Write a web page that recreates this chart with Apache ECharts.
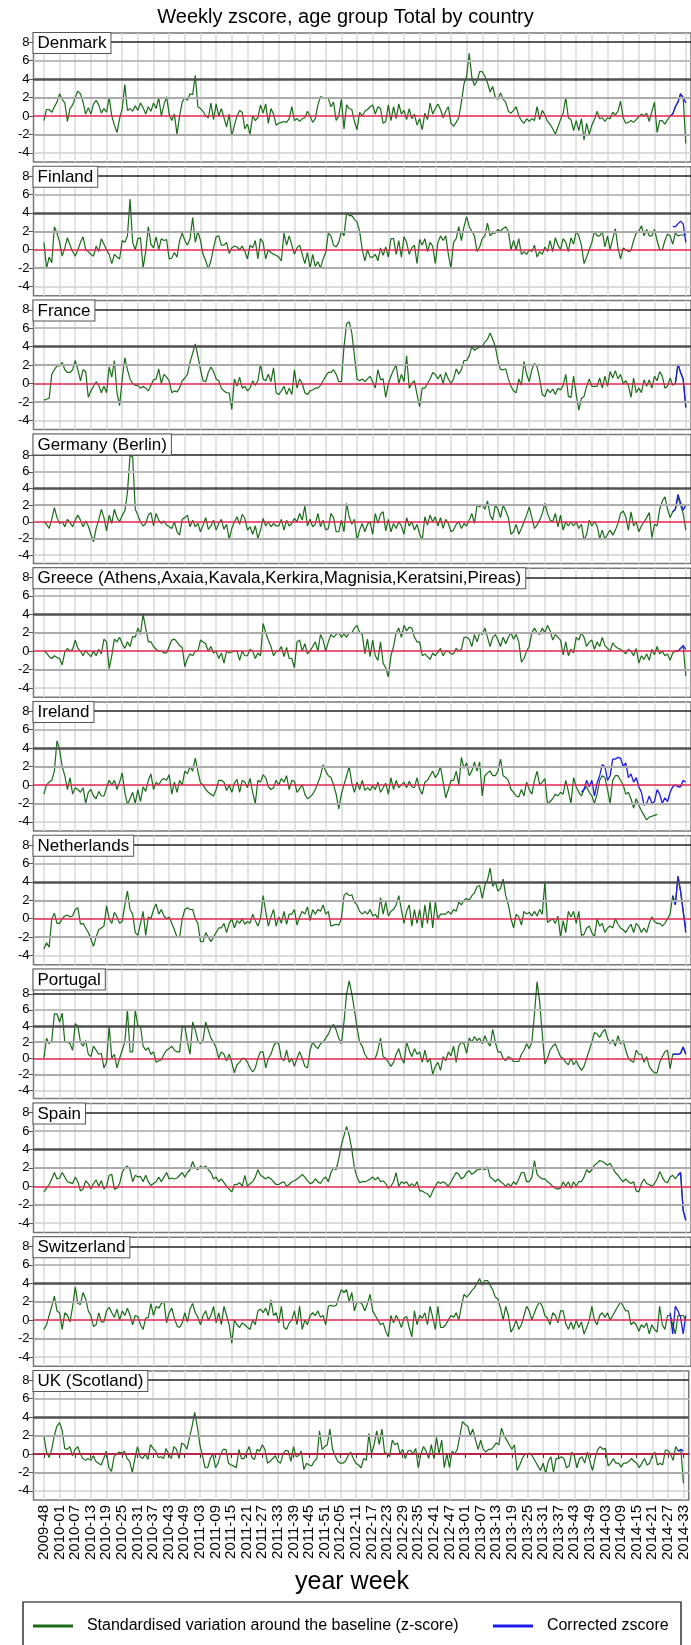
<!DOCTYPE html>
<html><head><meta charset="utf-8">
<script src="https://cdn.jsdelivr.net/npm/echarts@6/dist/echarts.min.js"></script>
<style>html,body{margin:0;padding:0;background:#fff}#c{width:691px;height:1645px}</style>
</head><body><div id="c"></div>
<script>
// ---------- categories (ISO year-week, 2009-48 .. 2014-33) ----------
const firstYear = 2009, firstWeek = 48, weekCount = 247;
const weeksInYear = {2009: 53, 2010: 52, 2011: 52, 2012: 52, 2013: 52, 2014: 52};
const weeks = [];
{ let y = firstYear, w = firstWeek;
  for (let i = 0; i < weekCount; i++) {
    weeks.push(y + '-' + String(w).padStart(2, '0'));
    w++; if (w > weeksInYear[y]) { w = 1; y++; }
  } }

const panelNames = ['Denmark','Finland','France','Germany (Berlin)',
  'Greece (Athens,Axaia,Kavala,Kerkira,Magnisia,Keratsini,Pireas)',
  'Ireland','Netherlands','Portugal','Spain','Switzerland','UK (Scotland)'];
const yTickValues = [-4,-2,0,2,4,6,8];

// ---------- z-score series (green), one value per week ----------
const denmark = [
-0.5,0.7,0.7,0.4,1.0,1.5, 2.4,1.8,1.4,-0.6,0.8,1.2, 2.0,2.7,2.4,1.5,0.2,0.9, 0.2,1.3,1.7,1.2,0.3,0.8,
0.4,2.0,0.0,-1.0,-1.8,-0.3, 0.8,3.4,0.6,0.8,0.5,1.1, 0.6,1.4,0.9,0.2,1.0,0.5, 1.4,0.8,2.0,0.0,1.2,2.1,
0.2,-0.5,0.2,-2.0,0.0,1.5, 2.0,1.7,2.4,2.3,4.4,1.0, 0.8,0.5,0.0,-0.2,1.4,-0.4, 1.3,0.0,0.8,-0.2,-1.2,0.2,
-2.2,-1.0,0.0,0.6,0.4,-1.4, -0.9,-2.0,0.0,-0.5,-0.2,1.2, 0.3,1.3,-0.8,0.8,0.2,-1.0, -0.8,-0.7,-0.6,-0.7,-0.3,1.0,
-0.5,-0.3,-0.6,-0.3,-0.2,0.5, 0.0,-0.7,-0.3,1.2,2.1,2.0, 2.0,1.9,1.0,1.5,-0.5,0.0, 1.8,-1.4,1.2,0.8,0.7,-0.6,
-1.5,0.4,0.0,0.5,0.7,1.0, 1.2,0.2,1.0,0.8,-0.8,-0.6, 1.2,-0.5,1.0,-0.3,1.3,0.2, 0.6,-0.4,0.8,-0.3,0.2,-1.0,
-0.3,-1.5,0.3,-0.4,1.4,0.2, 0.8,1.3,0.7,-0.2,0.5,1.0, -0.8,-1.1,-0.7,-0.2,1.5,3.5, 4.3,6.8,4.2,3.3,3.8,4.8,
4.8,4.3,3.6,2.6,3.2,2.0, 1.8,2.5,1.8,1.5,0.5,0.3, 0.6,1.0,0.0,-0.5,-0.8,-0.3, -0.6,-0.3,-0.5,1.0,-0.4,0.6,
0.1,-0.6,-0.9,-1.4,-2.0,-1.2, -0.4,0.3,2.0,-0.2,-0.4,-1.6, -0.5,-1.6,-0.3,-2.6,-0.8,-2.0, -1.0,-0.4,0.5,-0.3,-0.2,-0.6,
-0.2,-0.3,0.4,0.1,0.5,1.6, -0.2,-0.8,-0.7,-0.5,-0.7,-0.4, -0.1,0.2,0.0,0.3,-0.6,0.5, 1.5,-1.8,-0.5,-0.5,-0.9,-0.4,
0.0,0.2,1.0,1.5,2.4,2.0, -3.0];
const finland = [
0.8,-2.0,-0.8,-1.4,2.5,1.8, 0.8,-0.7,0.2,1.3,0.5,-0.2, -0.7,0.0,0.8,1.4,0.0,-0.2, -0.5,-0.7,0.4,-0.2,1.2,0.6,
0.0,-0.5,-1.5,-0.5,-0.8,-1.0, 1.0,0.8,1.5,5.5,0.8,0.0, 1.2,1.3,-2.0,-0.2,2.5,0.6, 0.2,1.4,0.0,1.2,1.0,1.1,
-1.0,-0.9,-0.3,-0.8,1.0,1.8, 1.0,0.5,1.2,3.5,0.8,2.0, 1.0,-0.5,-1.2,-2.1,-1.2,0.2, 1.4,1.5,0.5,0.5,0.8,-0.4,
0.2,0.4,0.3,0.0,0.4,-0.2, -1.0,0.5,0.2,1.0,-1.0,1.2, 0.8,-1.0,0.0,-0.3,-0.5,-0.6, -0.8,-1.2,1.8,0.5,1.5,0.5,
-0.5,0.2,0.5,-0.5,-1.5,-0.3, -2.0,-0.5,-1.8,-1.3,-2.0,-1.0, -0.3,1.8,1.5,0.5,0.3,0.8, 2.0,1.5,4.0,3.7,3.7,3.3,
3.0,2.0,0.0,-1.2,0.0,-0.8, -0.8,-0.5,-1.2,0.2,-0.6,0.3, -0.8,1.2,1.2,-0.5,1.0,-0.8, 1.4,0.8,-0.5,0.2,0.5,-1.5,
1.1,0.5,1.2,-0.2,0.8,0.4, -1.5,0.8,1.5,1.0,1.5,-0.5, -2.0,0.8,1.2,2.5,1.0,2.5, 3.6,2.5,2.0,1.5,-0.2,0.3,
1.2,1.5,2.9,1.5,1.8,1.8, 2.2,2.0,2.3,2.5,2.0,0.0, 1.0,0.0,1.2,-0.5,-0.2,-0.5, 0.0,-0.2,0.5,-0.8,-0.2,-0.5,
0.3,-0.2,1.0,-0.2,1.3,0.5, 0.0,1.2,0.8,-0.2,1.3,0.6, 2.0,1.5,0.5,-1.5,-0.8,0.0, 0.8,2.0,1.5,1.5,2.0,0.3,
1.5,0.0,1.2,2.3,0.2,-1.0, 0.2,0.0,-0.2,-0.1,1.0,1.8, 2.0,2.6,1.5,2.2,1.5,1.5, 2.2,1.0,0.0,0.0,1.0,1.7,
1.5,0.6,1.8,1.5,1.6,1.6, 1.7];
const france = [
-1.8,-1.7,-1.6,1.0,1.5,1.9, 1.9,2.3,1.5,1.2,1.2,1.5, 2.5,1.5,0.3,1.5,1.3,-1.5, -0.8,-0.3,0.2,-0.2,-1.0,-0.3,
-1.0,1.8,0.7,2.5,-1.0,-2.4, 0.5,2.8,1.5,0.5,0.0,-0.2, -0.2,-0.5,-0.3,-0.5,-0.8,-0.2, 0.4,0.5,1.6,0.0,1.0,0.7,
0.3,-1.0,-0.8,-0.9,-0.5,0.3, 0.6,1.0,2.3,3.3,4.3,3.0, 1.5,0.3,0.2,1.2,1.8,1.3, 0.5,0.3,-0.5,-0.8,-1.0,-1.0,
-2.8,0.5,-0.3,0.7,-0.5,-0.3, -0.8,-0.5,0.3,-0.2,0.3,2.1, 0.5,0.3,1.0,0.2,1.7,-1.0, -1.2,-0.8,-0.3,-1.2,-0.5,-1.2,
1.5,-0.5,0.5,0.0,-1.0,-1.2, -0.8,-0.7,-0.5,-0.5,-0.2,0.3, 0.8,1.2,1.2,1.5,1.0,0.2, 0.2,4.0,6.5,6.7,5.5,3.0,
0.5,0.3,0.5,0.2,0.5,0.8, 0.2,-0.5,1.5,0.4,0.5,-1.5, 0.0,0.8,1.5,2.0,0.0,1.0, 0.2,3.0,-0.5,0.0,0.3,-1.2,
-2.5,-0.5,-0.5,0.0,0.5,1.2, 1.0,0.5,1.0,0.0,1.2,0.5, 0.0,0.5,1.6,1.0,1.5,2.5, 2.5,3.0,4.0,3.6,3.8,4.0,
4.0,4.5,4.8,5.5,4.8,4.0, 2.5,1.5,1.5,1.6,0.5,-0.3, -0.8,-1.0,0.5,-0.2,2.4,1.0, 0.2,1.5,2.2,1.8,0.5,-1.2,
-1.4,-0.6,-1.0,-0.6,-1.2,-0.5, -0.7,-0.2,1.0,-1.4,-1.5,0.8, -1.2,-2.9,-1.6,-1.4,-0.3,0.5, -0.3,-0.3,-0.3,0.6,-0.5,0.8,
-0.3,1.3,0.6,1.4,0.5,1.0, 0.0,0.3,-0.2,-1.5,0.6,-1.0, -0.5,-1.0,0.4,-0.3,0.4,-0.5, 0.8,0.3,1.3,0.8,-0.5,-0.3,
0.6,-0.2,0.0,2.1,1.2,0.5, -2.6];
const germany = [
0.0,-0.3,-0.8,0.3,1.7,0.5, -0.2,0.0,-0.6,0.3,-0.1,-0.6, 0.2,0.8,0.2,-0.6,0.1,-0.5, -1.5,-2.4,-0.8,0.2,1.5,0.5,
-1.1,0.8,-0.2,1.5,0.5,0.0, 0.8,1.3,3.5,8.0,7.8,1.5, 0.8,0.0,-0.5,-0.2,0.8,1.1, -0.5,1.0,0.2,-0.2,0.1,-0.4,
-0.6,-0.8,0.0,-1.2,-1.6,0.3, 0.5,0.8,-0.6,0.2,-0.6,-0.2, -1.2,-0.4,0.5,-0.9,-0.5,0.2, -1.0,-0.2,0.3,-0.9,-0.3,-2.1,
-0.8,0.0,0.6,-0.3,0.9,0.4, -1.0,-0.6,-1.5,-0.5,-2.0,-1.0, 0.4,-0.5,0.0,-0.6,-0.2,-0.5, -0.5,0.3,-1.0,0.2,-0.5,-0.2,
0.4,0.0,1.0,0.2,1.9,-0.5, 0.3,-0.6,-0.3,1.0,-0.6,0.2, -1.0,-0.8,1.0,0.5,-1.2,-1.2, 0.2,-1.2,2.2,0.6,-0.3,0.3,
-2.2,-1.0,-0.2,-1.2,-0.3,0.0, -1.5,1.0,-0.2,0.9,1.2,-1.1, 0.3,-1.2,-0.2,-0.8,0.0,-0.5, -1.5,0.5,-0.5,0.0,-1.0,-0.3,
-1.5,-2.2,0.6,-0.4,0.8,0.0, 0.6,-0.5,0.5,-0.8,0.3,-0.2, -1.2,-1.0,-0.3,0.0,-0.8,-0.2, -0.5,0.2,1.0,-0.2,2.0,1.8,
2.1,1.5,2.5,0.8,0.2,2.0, 1.5,0.5,2.0,1.3,0.5,-1.5, -1.2,-0.3,-1.5,-0.8,0.0,0.8, 1.8,0.5,-0.8,-0.4,0.2,1.0,
2.2,1.0,0.2,0.0,1.0,-0.6, 0.8,-1.0,0.0,-0.5,0.0,-0.5, 0.0,-0.8,-0.3,-2.2,-1.5,0.2, -0.5,0.0,-0.5,-2.0,-1.0,-2.1,
-1.5,-1.0,-1.6,-1.0,-0.2,1.0, 1.3,0.6,-1.0,1.2,-0.5,0.0, -1.2,-0.5,0.0,0.5,1.1,-1.9, -0.3,-0.5,1.5,2.5,3.0,1.5,
0.5,1.2,1.5,3.0,2.0,1.0, -1.0];
const greece = [
0.0,-0.2,-0.6,-0.8,-0.5,-0.7, -0.8,-1.5,-0.1,0.3,0.0,0.2, 1.2,0.3,0.0,-0.5,0.1,-0.3, -0.6,0.0,-0.5,0.2,-0.3,1.3,
1.0,-1.9,-0.5,1.3,1.0,1.5, 0.8,0.3,1.0,0.5,1.6,1.5, 2.5,1.8,4.0,2.5,1.0,1.0, 0.5,0.2,0.0,0.0,-0.2,-0.2,
0.5,1.2,1.3,1.0,0.6,0.4, -1.7,-0.8,-0.3,-0.5,0.0,0.0, 1.2,1.0,0.8,0.0,0.5,-0.2, 0.0,-0.8,-0.2,-1.3,0.0,-0.2,
-0.1,0.0,0.0,-1.0,0.0,-0.5, -0.5,0.2,0.0,-0.8,-0.2,-0.5, 3.0,2.0,1.2,0.5,-0.5,0.0, 0.0,0.5,-0.6,0.4,-0.8,-0.8,
-1.8,1.0,1.2,0.0,0.8,-0.3, 0.0,0.5,1.0,0.0,1.8,1.2, 0.0,1.0,1.8,1.5,1.8,2.0, 1.5,1.9,1.5,2.0,2.0,2.5,
2.8,2.0,1.8,-0.3,1.3,-0.6, 1.2,-0.5,-1.0,1.0,-1.3,-1.8, -2.8,-0.5,0.5,2.0,2.5,1.5, 2.8,2.2,2.6,2.5,1.5,1.0,
1.0,-0.5,-0.3,-0.6,-0.9,-0.2, -0.5,-0.1,0.3,-0.5,0.0,0.0, -0.3,-0.3,0.3,0.0,0.2,1.5, 1.5,1.3,0.5,1.8,1.0,2.0,
1.8,2.5,1.5,0.5,1.5,1.8, 1.2,0.5,1.5,0.8,1.5,2.0, 1.3,1.8,1.0,-1.2,-0.8,0.0, 0.5,2.0,2.5,2.0,1.8,2.5,
2.0,2.8,2.2,1.2,1.8,1.5, 1.2,-0.4,1.0,-0.5,0.2,-0.2, 1.5,1.2,2.0,1.5,0.5,1.0, 1.2,0.2,1.0,0.5,1.5,0.6,
0.3,0.0,0.9,0.5,0.3,0.2, 0.0,-0.3,0.2,0.0,-0.5,0.3, -1.3,-0.5,-0.9,-0.3,-1.0,0.2, -0.4,0.5,-0.3,0.0,-0.5,-0.3,
-1.0,-0.2,0.0,0.0,0.3,0.6, -2.7];
const ireland = [
-1.0,0.0,0.3,0.5,1.5,4.8, 3.8,2.0,1.0,-0.5,0.8,-1.0, -0.3,-0.5,-0.8,-0.3,-2.0,-0.8, -0.5,-1.2,-1.5,-0.7,-1.2,-1.2,
-0.3,0.5,0.0,0.5,-0.5,0.3, 1.3,-0.8,-2.1,-1.5,-0.8,-2.0, -0.5,-1.8,-0.2,-0.7,0.5,1.2, -0.5,0.3,0.0,0.5,0.7,0.5,
1.1,-1.0,0.3,-0.8,0.5,0.0, 1.5,1.2,2.0,1.5,2.9,1.5, 0.2,0.0,-0.5,-0.8,-1.0,-1.2, -0.5,0.5,0.5,0.3,-0.6,0.0,
-0.8,0.2,0.6,-0.8,0.5,0.3, -0.3,0.7,-0.8,-2.0,0.5,0.3, 1.1,0.8,-0.2,-0.5,-0.3,0.5, 0.0,0.7,0.3,1.0,-0.5,0.5,
0.4,-0.8,-0.4,0.0,-1.0,-1.5, -1.3,-1.0,-0.5,0.2,1.0,2.2, 1.5,1.0,0.8,0.0,-1.0,-2.6, -1.0,0.0,1.0,2.0,0.2,-0.8,
0.3,-0.5,0.5,-0.6,-0.3,-0.6, -0.1,-0.5,0.3,-0.8,-0.3,0.2, -1.0,0.8,-0.5,0.5,-0.3,0.0, 0.3,-0.3,0.4,-0.2,-0.3,0.8,
-0.5,-1.0,0.3,0.5,1.0,1.5, 0.8,1.2,2.0,0.3,-1.4,-0.5, 0.5,0.5,1.5,0.0,3.0,1.8, 2.4,1.0,1.5,2.5,1.5,2.5,
-1.2,1.0,1.3,1.5,1.0,1.0, 1.5,2.8,1.0,0.8,0.5,-0.5, -0.8,-1.2,-1.3,-0.5,-1.2,0.3, -0.5,-1.0,0.5,1.5,0.0,0.3,
0.7,-2.1,-1.8,-1.5,-1.0,-1.2, -0.8,-1.0,0.5,-0.7,-2.0,0.8, -0.2,-0.8,-1.2,-0.5,-0.2,-0.8, -1.2,-2.0,-1.0,0.5,1.0,0.8,
-0.5,-2.0,0.5,1.0,1.0,0.5, 0.0,-1.0,-0.8,-1.5,-2.5,-1.5, -2.2,-2.8,-3.3,-3.8,-3.5,-3.4, -3.3,-3.2];
const netherlands = [
-3.3,-2.6,-3.1,0.0,0.6,-0.5, -0.5,0.0,0.3,0.4,0.2,0.3, 1.0,1.2,-0.6,-0.5,-1.0,-1.5, -2.2,-3.0,-2.0,-1.2,-1.0,-0.8,
1.4,0.0,-0.5,0.7,0.2,-0.5, -0.3,1.5,3.0,1.0,0.5,-1.5, -1.8,-0.5,0.8,-1.8,0.2,0.0, 1.0,1.6,0.5,1.0,0.3,0.0,
0.2,-0.5,-1.2,-2.0,-2.0,0.0, 1.0,1.2,1.0,1.0,0.0,-0.5, -2.5,-2.5,-1.5,-2.0,-2.5,-2.0, -1.5,-1.0,-1.0,-0.5,-1.5,-0.5,
0.0,-1.0,-0.2,-0.5,0.0,-0.6, -0.3,-0.5,0.5,-0.2,-0.8,0.0, 2.5,0.8,-0.8,0.2,1.0,-0.8, 0.2,-0.5,0.8,-0.6,0.5,0.5,
1.0,-0.7,0.2,0.8,0.5,1.3, -0.2,1.0,0.5,1.0,0.8,1.5, 0.5,0.8,-0.8,-0.7,-0.6,-0.7, 0.0,2.5,2.8,2.5,2.6,1.8,
1.5,0.8,0.5,0.8,0.5,1.0, 0.3,0.5,0.0,2.3,0.5,1.8, 0.3,0.8,1.0,1.5,2.5,1.0, -0.5,0.8,1.5,-0.8,1.0,-0.5,
1.0,-1.0,1.5,-0.5,1.8,-1.0, 1.8,0.0,0.5,0.5,0.5,0.8, 0.5,1.0,0.8,1.8,1.5,2.0, 2.2,2.0,2.5,2.8,3.5,3.6,
2.2,3.6,4.2,5.5,3.5,4.0, 3.0,3.3,4.3,2.5,1.5,0.0, -1.0,0.5,0.2,-0.7,0.8,0.5, 0.7,0.3,0.8,0.3,1.0,0.5,
4.0,-0.4,-0.2,0.0,-0.5,0.3, -2.0,-0.2,-1.5,0.8,0.2,0.8, -0.5,0.8,-1.8,-1.7,-1.0,-0.8, -1.5,-2.0,0.0,-0.8,-0.5,-1.5,
-1.0,-0.8,-1.0,0.0,-0.6,-1.0, -1.2,-1.5,-1.0,-0.6,-1.5,-0.5, -0.8,-1.5,-1.0,-1.5,-0.5,0.2, -0.3,-0.5,-0.5,-0.8,-0.5,0.0,
0.5,2.5,1.5,4.6,3.0,0.8, -1.0];
const portugal = [
0.0,2.5,1.8,2.2,5.5,5.5, 4.5,5.6,2.0,2.0,1.8,1.0, 4.3,4.0,2.0,1.5,2.2,0.5, 0.2,1.5,1.0,0.5,0.6,-1.2,
-0.5,4.0,0.0,0.5,-1.2,0.0, 1.0,2.0,6.0,0.8,0.8,6.0, 4.0,4.0,1.5,1.0,1.3,0.5, 0.8,-0.5,-0.3,-0.2,0.5,1.0,
1.2,1.5,1.0,0.8,0.8,3.8, 4.0,2.0,0.5,4.5,3.5,2.2, 1.8,2.3,4.5,3.5,2.5,2.0, 1.3,0.0,0.8,0.5,-0.3,0.5,
-0.5,-1.8,-0.8,-0.5,0.0,0.0, -0.5,-1.2,-1.7,-1.2,0.0,0.8, 0.8,-1.2,0.0,0.5,1.5,2.0, 1.8,0.0,-0.3,1.0,-0.5,0.0,
-1.0,0.0,0.8,0.0,-1.0,-1.2, 1.0,2.0,1.5,1.2,1.8,2.0, 2.5,3.0,3.8,4.2,3.5,2.5, 1.8,4.5,8.0,9.6,8.0,6.0,
3.8,2.0,1.5,0.5,0.0,-0.1, -0.1,0.0,1.0,2.5,0.2,0.0, -0.5,-1.0,-0.5,0.5,1.2,0.0, -0.6,2.0,1.0,0.2,1.2,0.5,
0.8,-0.5,1.0,-0.5,0.0,-2.0, -1.0,-0.5,-1.5,0.2,-0.3,0.8, 0.3,1.5,-0.5,1.5,2.0,1.8, 0.6,2.5,2.0,2.7,2.2,2.5,
1.8,2.8,2.0,1.5,3.6,2.0, 0.8,0.8,0.0,-0.3,0.2,0.0, -0.4,-0.4,-0.4,0.5,1.0,1.8, 1.2,2.0,5.5,9.5,7.0,3.0,
-0.7,0.0,1.0,1.5,1.8,1.0, 0.2,0.0,-0.5,-0.8,0.0,-0.8, -0.3,-1.0,-1.5,-1.0,0.0,1.0, 2.0,3.2,3.0,2.6,3.2,3.6,
2.5,1.8,2.3,1.5,2.8,1.8, 2.2,1.0,0.0,-0.3,-0.5,1.0, 0.5,0.5,-0.5,0.2,-1.0,-1.5, -1.8,-1.8,-0.5,0.2,0.8,1.0,
-1.3,0.5,0.5,0.5,0.6,1.4, 0.5];
const spain = [
-0.6,-0.2,0.2,0.8,1.5,0.8, 0.9,1.5,1.0,0.5,0.4,0.3, 1.0,0.5,-0.5,-0.3,0.6,0.3, -0.3,0.3,0.7,0.0,0.6,-0.3,
0.0,1.2,1.3,-0.3,-0.2,0.3, 1.5,2.0,2.2,1.8,0.5,1.2, 1.0,1.1,0.5,1.2,0.5,0.1, 0.3,0.5,1.0,0.5,1.0,1.5,
0.8,0.9,0.8,0.9,1.2,1.5, 1.0,1.5,1.8,2.7,2.0,1.8, 2.2,2.0,2.2,1.8,1.5,0.8, 1.0,0.5,0.8,0.4,0.0,-0.3,
-0.6,0.2,0.2,0.4,0.0,1.2, 0.0,0.3,0.5,1.0,1.8,1.2, 1.0,0.8,1.0,0.8,0.5,0.2, 0.2,0.4,0.5,0.0,0.2,0.5,
0.6,0.8,1.0,1.3,1.0,0.6, 0.3,0.4,0.8,0.5,0.3,0.8, 1.0,0.5,1.5,2.0,1.8,3.0, 4.5,5.5,6.5,5.5,4.0,2.0,
1.0,0.4,0.5,0.5,0.6,0.8, 1.0,0.7,1.0,0.5,0.6,0.3, -0.2,0.0,0.5,1.5,0.0,0.5, 0.3,0.5,0.0,0.3,0.0,0.5,
-0.5,-0.5,-0.7,-0.8,-1.2,-0.5, 0.0,0.5,0.3,0.5,0.3,0.0, 0.5,1.0,1.5,1.3,0.8,1.0, 1.5,1.7,1.3,1.5,1.8,1.8,
2.0,1.8,2.1,1.0,0.8,0.5, 0.8,0.5,0.3,0.0,0.3,0.0, 0.5,0.2,0.8,1.5,1.5,0.5, 0.5,1.0,2.8,1.3,1.0,0.8,
0.8,0.5,0.3,0.0,-0.2,-0.3, -0.2,0.5,0.0,0.5,-0.2,0.5, 0.0,0.5,0.5,1.0,1.8,1.5, 1.8,2.3,2.5,2.8,2.7,2.5,
2.3,2.5,2.0,1.5,1.2,0.8, 0.5,0.8,0.5,0.3,0.5,-0.5, -0.6,0.3,0.8,0.3,0.2,0.0, 0.3,0.8,1.6,1.0,0.5,0.4,
1.0,1.2,0.8,1.2,1.5,-2.6, -3.7];
const switzerland = [
-1.0,-0.5,0.5,1.5,2.6,1.0, 0.8,-1.0,0.8,0.5,-0.2,1.5, 3.6,1.8,1.7,3.0,2.3,1.0, 0.5,-0.7,-0.5,0.8,-0.2,-0.2,
1.0,1.4,0.8,0.3,1.2,0.0, 1.0,0.5,1.3,0.5,-0.5,0.5, 0.4,-0.5,-1.0,0.2,0.3,1.8, 0.5,1.5,1.3,1.8,2.0,-0.3,
0.8,1.3,0.2,-0.6,-0.8,-0.3, 0.8,-0.2,1.2,1.8,0.8,0.3, -0.5,0.5,1.0,0.0,0.5,1.5, -0.3,0.8,-0.5,1.5,0.5,-0.5,
-2.5,0.0,-0.5,-0.8,-0.3,-0.5, -0.8,-1.0,0.0,-0.5,1.0,1.2, 0.8,1.3,0.5,2.2,0.5,0.8, -0.3,1.5,-0.8,-1.0,-0.3,0.0,
1.0,-0.5,1.5,-1.0,0.0,-0.5, 0.5,0.8,0.5,1.0,0.3,0.5, -0.5,1.5,1.6,1.5,1.6,2.5, 3.3,3.0,3.3,2.0,3.0,1.0,
2.0,2.0,1.7,1.0,1.8,2.8, 1.0,0.5,0.0,-0.5,-0.3,-1.2, -1.8,0.5,-0.3,0.5,0.0,-0.8, 0.2,0.4,-0.8,-1.8,1.0,-0.5,
0.5,0.2,0.8,-0.5,1.5,0.3, -1.0,1.5,-0.8,-0.8,-0.5,0.0, 0.5,0.3,0.8,0.0,1.5,2.8, 2.5,2.8,3.2,3.5,4.0,4.5,
3.8,4.3,4.3,3.8,3.3,2.5, 2.3,1.3,0.0,1.5,0.5,-1.3, -0.8,0.0,-1.0,-0.5,0.5,1.5, 1.0,0.0,0.8,1.5,2.0,1.5,
0.5,0.2,-0.5,0.8,0.5,-0.3, 1.0,1.0,-0.4,-1.0,-0.2,-1.0, 0.0,-0.8,-0.2,-1.5,-0.8,0.0, 1.5,0.0,-0.5,0.5,0.8,0.3,
0.8,0.0,0.5,1.0,1.5,2.0, 1.5,1.0,1.0,-0.5,-0.2,-0.5, -1.2,-0.5,-0.8,-0.3,-1.5,-0.5, -1.0,-1.3,1.5,-0.5,-1.0,0.5,
0.5,-0.5,-1.5,0.5,0.5,0.5, 0.0];
const ukScotland = [
2.0,0.2,-0.4,0.5,2.0,3.0, 3.4,2.6,0.6,0.5,0.8,-0.2, 0.5,0.8,0.0,-0.5,-0.7,-0.5, -0.7,-0.2,-0.8,-1.0,-1.2,-0.5,
0.3,-1.5,-1.9,-0.3,0.0,0.2, 0.1,0.3,-0.5,-0.8,-2.0,-0.5, 0.8,-0.3,-0.5,0.0,-0.6,1.0, 0.6,0.3,-0.4,-0.3,-0.5,0.6,
0.0,-0.5,0.8,0.5,-0.5,1.2, 1.0,0.5,1.8,3.0,4.5,3.0, 1.0,-0.2,-1.5,-1.5,-0.5,0.0, -1.5,-1.0,0.0,0.5,0.5,-1.0,
-1.2,-1.3,-1.5,0.5,-0.5,-0.5, 0.2,0.8,-0.4,-0.6,0.5,0.3, 1.0,0.5,-1.0,-0.8,-0.5,-0.2, -0.8,-1.0,0.0,0.4,0.3,-0.8,
0.8,-0.3,-0.2,0.3,-1.7,-1.0, -1.2,-1.3,-0.8,-0.5,2.5,0.5, 0.8,1.0,2.7,0.5,-0.2,-0.8, -1.0,-1.0,-0.8,-0.2,0.2,-0.5,
-1.0,-1.2,-1.5,-0.5,-0.7,2.2, 0.0,1.0,2.5,1.0,2.7,0.2, 0.0,-0.3,1.5,1.0,1.2,0.0, 0.5,-0.5,0.3,0.4,0.0,0.6,
-1.5,0.0,0.8,0.3,-0.5,1.0, -0.5,1.8,0.0,1.5,-1.5,0.0, -1.5,0.3,0.0,0.5,2.0,3.5, 3.2,3.0,2.0,2.7,1.5,0.5,
1.5,0.5,0.2,0.5,0.5,0.8, 1.2,1.0,2.8,2.0,1.5,1.0, 0.5,1.0,-1.8,-1.2,-0.5,0.0, 0.0,0.1,-0.3,-0.8,-1.3,-1.8,
-1.0,-2.1,-0.8,-0.3,-2.0,-0.5, -0.5,-0.3,-0.5,-1.5,-1.3,0.2, -0.2,-1.5,-0.5,-0.3,-1.0,0.2, -0.8,-1.8,-0.5,0.5,0.8,0.5,
0.6,-1.3,-1.0,-0.5,-1.0,-1.0, -1.4,-1.0,-1.0,-0.8,-0.5,-0.8, -1.0,-1.5,-1.0,-0.5,-1.2,-1.0, -0.2,0.2,-1.2,-1.0,-1.2,0.4,
0.4,0.0,-0.7,0.8,0.3,0.4, -3.2];

// ---------- corrected z-score (blue): first week index + values ----------
const denmarkCorrStart = 240,     denmarkCorr = [0.0,0.2,1.0,1.5,2.4,2.0,1.4];
const finlandCorrStart = 241,     finlandCorr = [2.5,2.5,2.8,3.1,2.8,0.8];
const franceCorrStart = 242,      franceCorr = [0.0,2.1,1.2,0.5,-2.6];
const germanyCorrStart = 241,     germanyCorr = [1.2,1.5,3.3,2.3,1.4,2.0];
const greeceCorrStart = 242,      greeceCorr = [0.0,0.0,0.3,0.6,0.2];
const irelandCorrStart = 206,     irelandCorr = [-0.8,-0.5,0.5,-0.2,
  0.5,-1.2,0.2,1.0,2.2,2.0, 0.5,1.0,2.8,2.8,3.0,2.9, 2.0,2.4,0.8,1.2,0.3,0.8,
  -0.2,-0.8,-2.2,-2.0,-1.2,-2.0, -1.8,-0.5,-1.0,-2.0,-1.4,-1.8, -0.8,-0.2,0.0,-0.2,-0.2,0.5,0.3];
const netherlandsCorrStart = 241, netherlandsCorr = [2.5,1.5,4.6,3.0,0.8,-1.5];
const portugalCorrStart = 241,    portugalCorr = [0.5,0.5,0.5,0.6,1.4,0.5];
const spainCorrStart = 243,       spainCorr = [1.2,1.5,-2.6,-3.7];
const switzerlandCorrStart = 240, switzerlandCorr = [0.8,-1.5,1.5,1.0,0.3,-1.5,0.5];
const ukCorrStart = 244,          ukCorr = [0.3,0.5,0.3];

const zscores = [denmark, finland, france, germany, greece, ireland, netherlands, portugal, spain, switzerland, ukScotland];
const corrected = [
  [denmarkCorrStart, denmarkCorr], [finlandCorrStart, finlandCorr], [franceCorrStart, franceCorr],
  [germanyCorrStart, germanyCorr], [greeceCorrStart, greeceCorr], [irelandCorrStart, irelandCorr],
  [netherlandsCorrStart, netherlandsCorr], [portugalCorrStart, portugalCorr], [spainCorrStart, spainCorr],
  [switzerlandCorrStart, switzerlandCorr], [ukCorrStart, ukCorr]];

// ---------- layout ----------
const FONT = 'Liberation Sans, Arial, Helvetica, sans-serif';
const GREEN = '#1b6b1b', BLUE = '#1c1ce8', RED = '#e3264f';
const NAME_Z = 'Standardised variation around the baseline (z-score)';
const NAME_C = 'Corrected zscore';
const PAD_L = 4, PAD_R = 2;
const cats = Array(PAD_L).fill('').concat(weeks, Array(PAD_R).fill(''));
const tickFn = (idx) => idx >= PAD_L && idx < PAD_L + weekCount && (idx - PAD_L) % 6 === 0;
const yMax = [9, 9, 9, 10.5, 9, 9, 9, 11, 9, 9, 9];
const PANEL_TOP0 = 33, PANEL_STEP = 133.8, PANEL_H = 129;

function pad(arr, start) {
  const out = new Array(PAD_L + weekCount + PAD_R).fill(null);
  arr.forEach((v, k) => { out[PAD_L + start + k] = v; });
  return out;
}

const grids = [], xAxes = [], yAxes = [], series = [], graphics = [];
panelNames.forEach((name, i) => {
  const top = PANEL_TOP0 + i * PANEL_STEP;
  const last = i === panelNames.length - 1;
  grids.push({left: 33.5, right: -1, top: top, height: PANEL_H, show: true,
    borderColor: '#777', borderWidth: 1.5, backgroundColor: '#fff'});
  xAxes.push({type: 'category', gridIndex: i, data: cats, boundaryGap: false,
    axisLine: {show: last, lineStyle: {color: '#333', width: 2}},
    axisTick: {show: last, interval: tickFn, length: 4, lineStyle: {color: '#333'}},
    axisLabel: {show: last, interval: tickFn, rotate: 90, fontSize: 15, margin: 5, color: '#000', fontFamily: FONT},
    splitLine: {show: true, interval: tickFn, lineStyle: {color: '#dadada', width: 1.5}}});
  yAxes.push({type: 'value', gridIndex: i, min: -5, max: yMax[i],
    axisLine: {show: false}, splitLine: {show: false},
    axisTick: {show: true, customValues: yTickValues, length: 5, lineStyle: {color: '#555'}},
    axisLabel: {customValues: yTickValues, fontSize: 13, color: '#000', margin: 4, fontFamily: FONT}});
  series.push({type: 'line', xAxisIndex: i, yAxisIndex: i, data: [], z: 1, silent: true,
    markLine: {silent: true, symbol: ['none', 'none'], label: {show: false}, animation: false,
      emphasis: {disabled: true},
      data: [
        {yAxis: 8, lineStyle: {color: '#222', width: 1.5, type: 'solid'}},
        {yAxis: 6, lineStyle: {color: '#bdbdbd', width: 2, type: 'solid'}},
        {yAxis: 4, lineStyle: {color: '#505050', width: 2.5, type: 'solid'}},
        {yAxis: 2, lineStyle: {color: '#ababab', width: 2, type: 'solid'}},
        {yAxis: 0, lineStyle: {color: RED, width: 1.5, type: 'solid'}},
        {yAxis: -2, lineStyle: {color: '#ababab', width: 2, type: 'solid'}},
        {yAxis: -4, lineStyle: {color: '#d0d0d0', width: 1.5, type: 'solid'}}
      ]}});
  series.push({name: NAME_Z, type: 'line', xAxisIndex: i, yAxisIndex: i, data: pad(zscores[i], 0),
    symbol: 'none', z: 3, animation: false, connectNulls: false,
    itemStyle: {color: GREEN}, lineStyle: {color: GREEN, width: 1.2}});
  series.push({name: NAME_C, type: 'line', xAxisIndex: i, yAxisIndex: i,
    data: pad(corrected[i][1], corrected[i][0]),
    symbol: 'none', z: 4, animation: false,
    itemStyle: {color: BLUE}, lineStyle: {color: BLUE, width: 1.3}});
  graphics.push({type: 'text', x: 33.5, y: top, z: 100,
    style: {text: name, font: '17px ' + FONT, fill: '#000', backgroundColor: '#fff',
      borderColor: '#555', borderWidth: 1, padding: [2, 4, 1, 4]}});
});

graphics.push({type: 'text', x: 352, y: 1582, z: 100,
  style: {text: 'year week', font: '25px ' + FONT, fill: '#000', align: 'center', verticalAlign: 'middle'}});
graphics.push({type: 'rect', z: 100, shape: {x: 23, y: 1602, width: 658, height: 60},
  style: {fill: 'none', stroke: '#000', lineWidth: 1.2}});

const chart = echarts.init(document.getElementById('c'), null, {renderer: 'canvas'});
chart.setOption({
  animation: false,
  backgroundColor: '#fff',
  textStyle: {fontFamily: FONT},
  title: {text: 'Weekly zscore, age group Total by country', left: 'center', top: 2,
    textStyle: {fontSize: 20, fontWeight: 'normal', color: '#000', fontFamily: FONT}},
  legend: [
    {data: [NAME_Z], left: 33, top: 1618, icon: 'rect', itemWidth: 40, itemHeight: 3, padding: 0,
     selectedMode: false, formatter: n => '  ' + n, textStyle: {fontSize: 16, color: '#000', fontFamily: FONT}},
    {data: [NAME_C], left: 493, top: 1618, icon: 'rect', itemWidth: 40, itemHeight: 3, padding: 0,
     selectedMode: false, formatter: n => '  ' + n, textStyle: {fontSize: 16, color: '#000', fontFamily: FONT}}
  ],
  grid: grids, xAxis: xAxes, yAxis: yAxes, series: series, graphic: graphics
});
</script></body></html>
